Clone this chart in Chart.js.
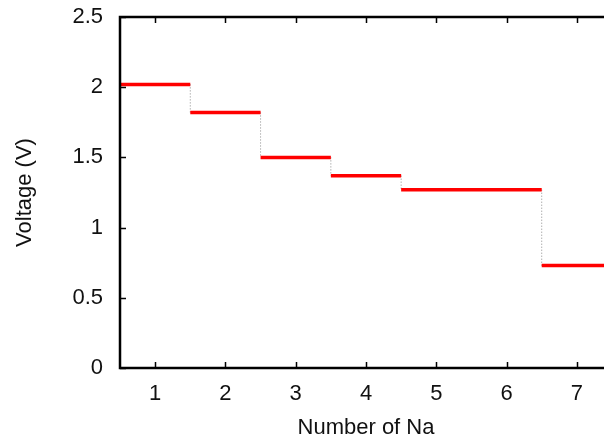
<!DOCTYPE html>
<html>
<head>
<meta charset="utf-8">
<script src="https://cdn.jsdelivr.net/npm/chart.js@4/dist/chart.umd.min.js"></script>
<style>
  html, body { margin: 0; padding: 0; background: #fff; overflow: hidden; }
  #wrap { width: 616px; height: 441px; position: relative; }
</style>
</head>
<body>
<div id="wrap"><canvas id="chart"></canvas></div>
<script>
// Values
const naCounts = [1, 2, 3, 4, 5, 6, 7];
const voltages = [2.02, 1.82, 1.50, 1.37, 1.27, 1.27, 0.73];
const xTicks = [1, 2, 3, 4, 5, 6, 7];
const yTicks = [0, 0.5, 1, 1.5, 2, 2.5];

// Horizontal red levels, each spanning n-0.5 .. n+0.5
const levels = [];
naCounts.forEach((n, i) => {
  levels.push({ x: n - 0.5, y: voltages[i] });
  levels.push({ x: n + 0.5, y: voltages[i] });
  levels.push({ x: n + 0.5, y: null });
});

// Thin dotted connectors between neighbouring levels
const risers = [];
for (let i = 0; i < naCounts.length - 1; i++) {
  const xm = naCounts[i] + 0.5;
  risers.push({ x: xm, y: voltages[i] });
  risers.push({ x: xm, y: voltages[i + 1] });
  risers.push({ x: xm, y: null });
}

const font = { family: "'Liberation Sans', Arial, sans-serif", size: 22 };

// Frame around the plot and inward tick marks
const framePlugin = {
  id: "frame",
  afterDraw(chart) {
    const ctx = chart.ctx;
    const a = chart.chartArea;
    const xs = chart.scales.x, ys = chart.scales.y;
    ctx.save();
    ctx.strokeStyle = "#000";
    ctx.lineWidth = 1.5;
    ctx.beginPath();
    xs.ticks.forEach(t => {
      const px = Math.round(xs.getPixelForValue(t.value)) + 0.5;
      ctx.moveTo(px, a.bottom); ctx.lineTo(px, a.bottom - 6);
      ctx.moveTo(px, a.top); ctx.lineTo(px, a.top + 6);
    });
    ys.ticks.forEach(t => {
      const py = Math.round(ys.getPixelForValue(t.value)) + 0.5;
      ctx.moveTo(a.left, py); ctx.lineTo(a.left + 6, py);
      ctx.moveTo(a.right, py); ctx.lineTo(a.right - 6, py);
    });
    ctx.stroke();
    ctx.lineWidth = 2.5;
    ctx.strokeRect(a.left, a.top, a.right - a.left, a.bottom - a.top);
    ctx.restore();
  }
};

new Chart(document.getElementById("chart"), {
  type: "line",
  data: {
    datasets: [
      {
        data: risers,
        borderColor: "#8a8a8a",
        borderWidth: 1,
        borderDash: [1, 2],
        pointRadius: 0,
        spanGaps: false,
        order: 2
      },
      {
        data: levels,
        borderColor: "#ff0000",
        borderWidth: 3.5,
        pointRadius: 0,
        spanGaps: false,
        order: 1
      }
    ]
  },
  options: {
    responsive: true,
    maintainAspectRatio: false,
    animation: false,
    layout: { padding: { left: 0, top: 17, right: 4, bottom: 0 } },
    plugins: {
      legend: { display: false },
      tooltip: { enabled: false }
    },
    scales: {
      x: {
        type: "linear",
        min: 0.5,
        max: 7.5,
        afterBuildTicks: s => { s.ticks = xTicks.map(v => ({ value: v })); },
        afterFit: s => { s.height = 73; s.paddingLeft = 0; s.paddingRight = 0; },
        grid: { display: false, drawTicks: false },
        border: { display: false },
        ticks: { color: "#111", font: font, padding: 13, maxRotation: 0 },
        title: { display: true, text: "Number of Na", color: "#111", font: font, padding: { top: 5, bottom: 0 } }
      },
      y: {
        min: 0,
        max: 2.5,
        afterBuildTicks: s => { s.ticks = yTicks.map(v => ({ value: v })); },
        afterFit: s => { s.width = 120; s.paddingTop = 0; s.paddingBottom = 0; },
        grid: { display: false, drawTicks: false },
        border: { display: false },
        ticks: { color: "#111", font: font, padding: 17, callback: v => String(v) },
        title: { display: true, text: "Voltage (V)", color: "#111", font: font, padding: { top: 12, bottom: 0 } }
      }
    }
  },
  plugins: [framePlugin]
});
</script>
</body>
</html>
